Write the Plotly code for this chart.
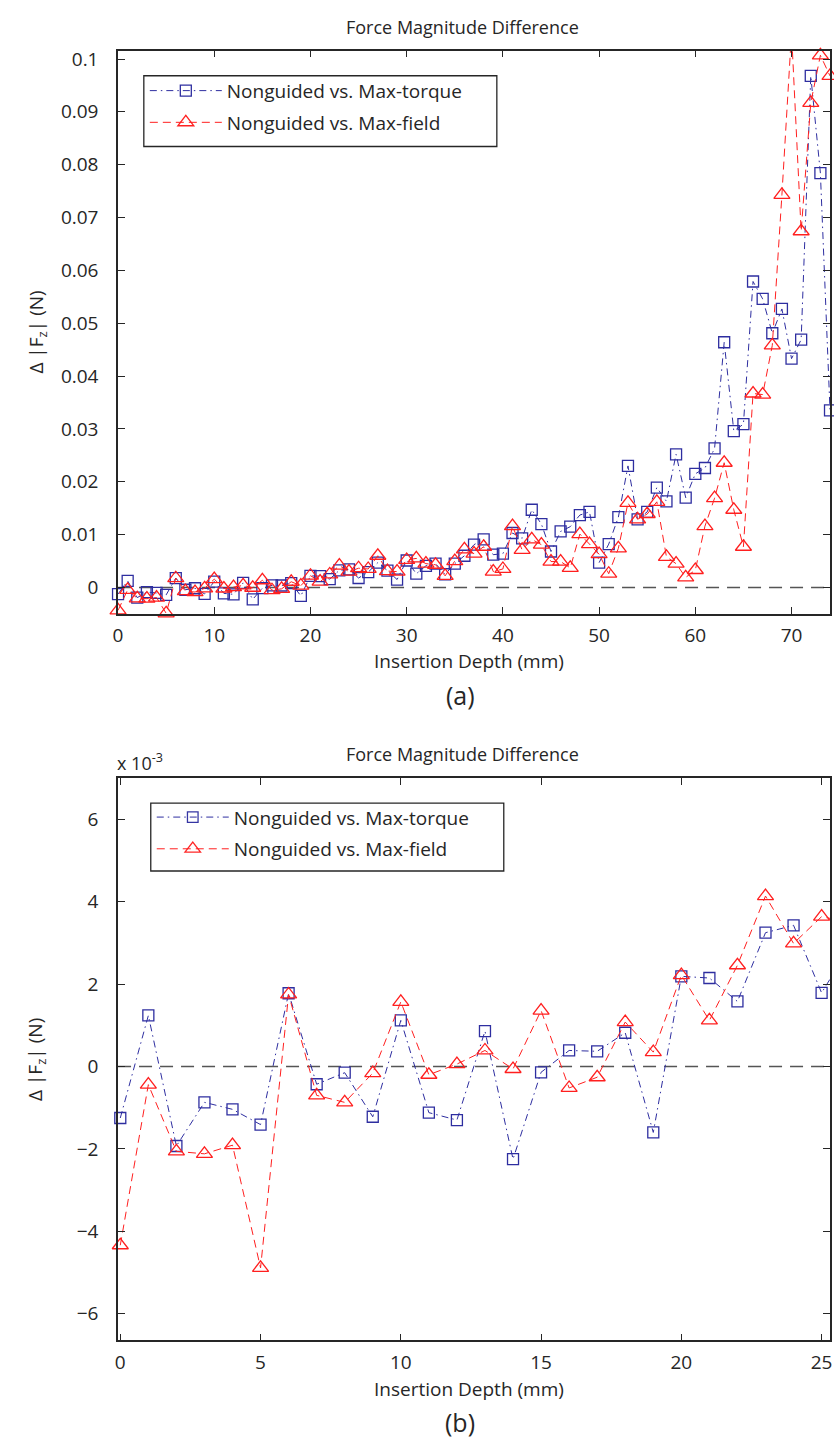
import numpy as np
import plotly.graph_objects as go

# Insertion depth (mm) and force-magnitude differences (N)
depth_mm = list(range(0, 75))

torque_diff_N = [
    -0.00125, 0.00124, -0.00193, -0.00087, -0.00104, -0.00141, 0.00178, -0.00043, -0.00015, -0.00122,
    0.00112, -0.00112, -0.00130, 0.00086, -0.00225, -0.00014, 0.00039, 0.00037, 0.00082, -0.00160,
    0.00219, 0.00215, 0.00158, 0.00325, 0.00343, 0.00179, 0.0029, 0.0047, 0.0032, 0.0015,
    0.0051, 0.0026, 0.0041, 0.0045, 0.0025, 0.0045, 0.0060, 0.0081, 0.0091, 0.0062,
    0.0064, 0.0103, 0.0093, 0.0147, 0.0120, 0.0068, 0.0106, 0.0115, 0.0137, 0.0143,
    0.0047, 0.0082, 0.0133, 0.0230, 0.0129, 0.0143, 0.0189, 0.0163, 0.0252, 0.0170,
    0.0215, 0.0226, 0.0263, 0.0464, 0.0296, 0.0309, 0.0579, 0.0546, 0.0481, 0.0527,
    0.0433, 0.0469, 0.0968, 0.0784, 0.0335,
]

field_diff_N = [
    -0.00434, -0.00044, -0.00206, -0.00212, -0.00191, -0.00489, 0.00175, -0.00070, -0.00087, -0.00016,
    0.00157, -0.00020, 0.00006, 0.00039, -0.00006, 0.00136, -0.00052, -0.00026, 0.00108, 0.00035,
    0.00222, 0.00112, 0.00246, 0.00414, 0.00299, 0.00364, 0.0035, 0.0060, 0.0031, 0.0030,
    0.0052, 0.0055, 0.0045, 0.0043, 0.0022, 0.0050, 0.0072, 0.0064, 0.0077, 0.0030,
    0.0035, 0.0116, 0.0071, 0.0091, 0.0081, 0.0049, 0.0049, 0.0037, 0.0101, 0.0082,
    0.0063, 0.0026, 0.0074, 0.0160, 0.0129, 0.0139, 0.0162, 0.0058, 0.0045, 0.0019,
    0.0033, 0.0116, 0.0169, 0.0236, 0.0147, 0.0077, 0.0367, 0.0365, 0.0458, 0.0743,
    0.1050, 0.0674, 0.0917, 0.1007, 0.0968,
]

series_names = ["Nonguided vs. Max-torque", "Nonguided vs. Max-field"]

# axis settings
top_xticks = [0, 10, 20, 30, 40, 50, 60, 70]
top_yticks = [0, 0.01, 0.02, 0.03, 0.04, 0.05, 0.06, 0.07, 0.08, 0.09, 0.1]
bot_xticks = [0, 5, 10, 15, 20, 25]
bot_yticks = [-6, -4, -2, 0, 2, 4, 6]
top_xrange = [0, 74]
top_yrange = [-0.005, 0.1016]
bot_xrange = [-0.08, 25.3]
bot_yrange = [-6.65, 7.0]
bot_max_depth = 26  # depths drawn in the zoomed panel
bot_scale = 1e3     # zoomed panel is shown in units of 10^-3 N

W, H = 834, 1439
BLUE = "#2e2ea0"
RED = "#ff1f1f"
INK = "#262626"
FONT = "Open Sans"


def px(x):
    return x / W


def py(y):
    return 1 - y / H


def marker_visibility(xs, ys, xr, yr):
    xs = np.asarray(xs, dtype=float)
    ys = np.asarray(ys, dtype=float)
    return (xs >= xr[0] - 1e-9) & (xs <= xr[1] + 1e-9) & (ys >= yr[0]) & (ys <= yr[1])


def add_series(fig, xs, ys, xr, yr, xa, ya, legend):
    styles = [
        dict(color=BLUE, dash="7px,4px,1.5px,4px", symbol="square-open", size=11, group="t"),
        dict(color=RED, dash="8px,5px", symbol="triangle-up-open", size=14, group="f"),
    ]
    for name, vals, st in zip(series_names, ys, styles):
        vis = marker_visibility(xs, vals, xr, yr)
        fig.add_trace(go.Scatter(
            x=xs, y=vals, name=name, mode="lines+markers",
            xaxis=xa, yaxis=ya, legend=legend, legendgroup=legend + st["group"],
            cliponaxis=False,
            line=dict(color=st["color"], width=1, dash=st["dash"]),
            marker=dict(symbol=st["symbol"], size=np.where(vis, st["size"], 0).tolist(),
                        opacity=np.where(vis, 1.0, 0.0).tolist(),
                        color=st["color"], line=dict(color=st["color"], width=1.3)),
        ))


fig = go.Figure()

# (a) full insertion range
add_series(fig, depth_mm, [torque_diff_N, field_diff_N], top_xrange, top_yrange, "x", "y", "legend")

# (b) first 25 mm, scaled to 10^-3 N
bx = [d for d in depth_mm if d <= bot_max_depth]
bt = [v * bot_scale for d, v in zip(depth_mm, torque_diff_N) if d <= bot_max_depth]
bf = [v * bot_scale for d, v in zip(depth_mm, field_diff_N) if d <= bot_max_depth]
add_series(fig, bx, [bt, bf], bot_xrange, bot_yrange, "x2", "y2", "legend2")

top_dom_y = [py(611), py(45.7)]
bot_dom_y = [py(1340), py(776)]
dom_x = [px(114), px(832)]

axis_common = dict(
    showline=True, linecolor=INK, linewidth=1.5, mirror="ticks",
    ticks="inside", ticklen=7, tickwidth=1, tickcolor=INK,
    showgrid=False, zeroline=False, ticklabeloverflow="allow",
    tickfont=dict(family=FONT, size=19, color=INK),
)
xaxis_common = dict(ticklabelstandoff=4, **axis_common)
yaxis_common = dict(ticklabelstandoff=14, **axis_common)

legend_common = dict(
    xanchor="left", yanchor="top", bgcolor="rgba(0,0,0,0)", borderwidth=0,
    font=dict(family=FONT, size=19, color=INK), itemwidth=72,
    traceorder="grouped", tracegroupgap=4,
)

fig.update_layout(
    width=W, height=H, autosize=False,
    margin=dict(l=0, r=0, t=0, b=0),
    paper_bgcolor="white", plot_bgcolor="white",
    xaxis=dict(domain=dom_x, anchor="y", range=top_xrange, tickvals=top_xticks, **xaxis_common),
    yaxis=dict(domain=top_dom_y, anchor="x", range=top_yrange, tickvals=top_yticks,
               ticktext=[f"{v:g}" for v in top_yticks], **yaxis_common),
    xaxis2=dict(domain=dom_x, anchor="y2", range=bot_xrange, tickvals=bot_xticks, **xaxis_common),
    yaxis2=dict(domain=bot_dom_y, anchor="x2", range=bot_yrange, tickvals=bot_yticks, **yaxis_common),
    legend=dict(x=px(141), y=py(67), **legend_common),
    legend2=dict(x=px(148), y=py(796), **legend_common),
    showlegend=True,
)

# legend frames
for (x0, y0, x1, y1) in ((140, 71, 496, 142), (147, 801, 503, 869)):
    fig.add_shape(type="rect", xref="paper", yref="paper", x0=px(x0), x1=px(x1), y0=py(y1), y1=py(y0),
                  line=dict(color=INK, width=1.3), fillcolor="white", layer="above")

# dashed zero reference lines
for xa, ya in (("x", "y"), ("x2", "y2")):
    fig.add_shape(type="line", xref=f"{xa} domain", yref=ya, x0=0, x1=1, y0=0, y1=0,
                  line=dict(color="#555555", width=1.5, dash="13px,8px"), layer="below")

ann = []


def text(x, y, s, size=16, angle=0):
    ann.append(dict(x=px(x), y=py(y), xref="paper", yref="paper", text=s, showarrow=False,
                    xanchor="center", yanchor="middle", textangle=angle,
                    font=dict(family=FONT, size=size, color=INK)))


text(461, 22, "Force Magnitude Difference", 18)
text(461, 752, "Force Magnitude Difference", 18)
text(468, 658, "Insertion Depth (mm)", 19)
text(468, 1389, "Insertion Depth (mm)", 19)
text(459, 692, "(a)", 25)
text(459, 1422, "(b)", 25)
text(32, 328, "Δ |F<sub>z</sub>| (N)", 19, -90)
text(32, 1058, "Δ |F<sub>z</sub>| (N)", 19, -90)
ann.append(dict(x=px(111), y=py(760), xref="paper", yref="paper", text="x 10<sup>-3</sup>",
                showarrow=False, xanchor="left", yanchor="middle",
                font=dict(family=FONT, size=18, color=INK)))
fig.update_layout(annotations=ann)

fig.write_html("out.html")
